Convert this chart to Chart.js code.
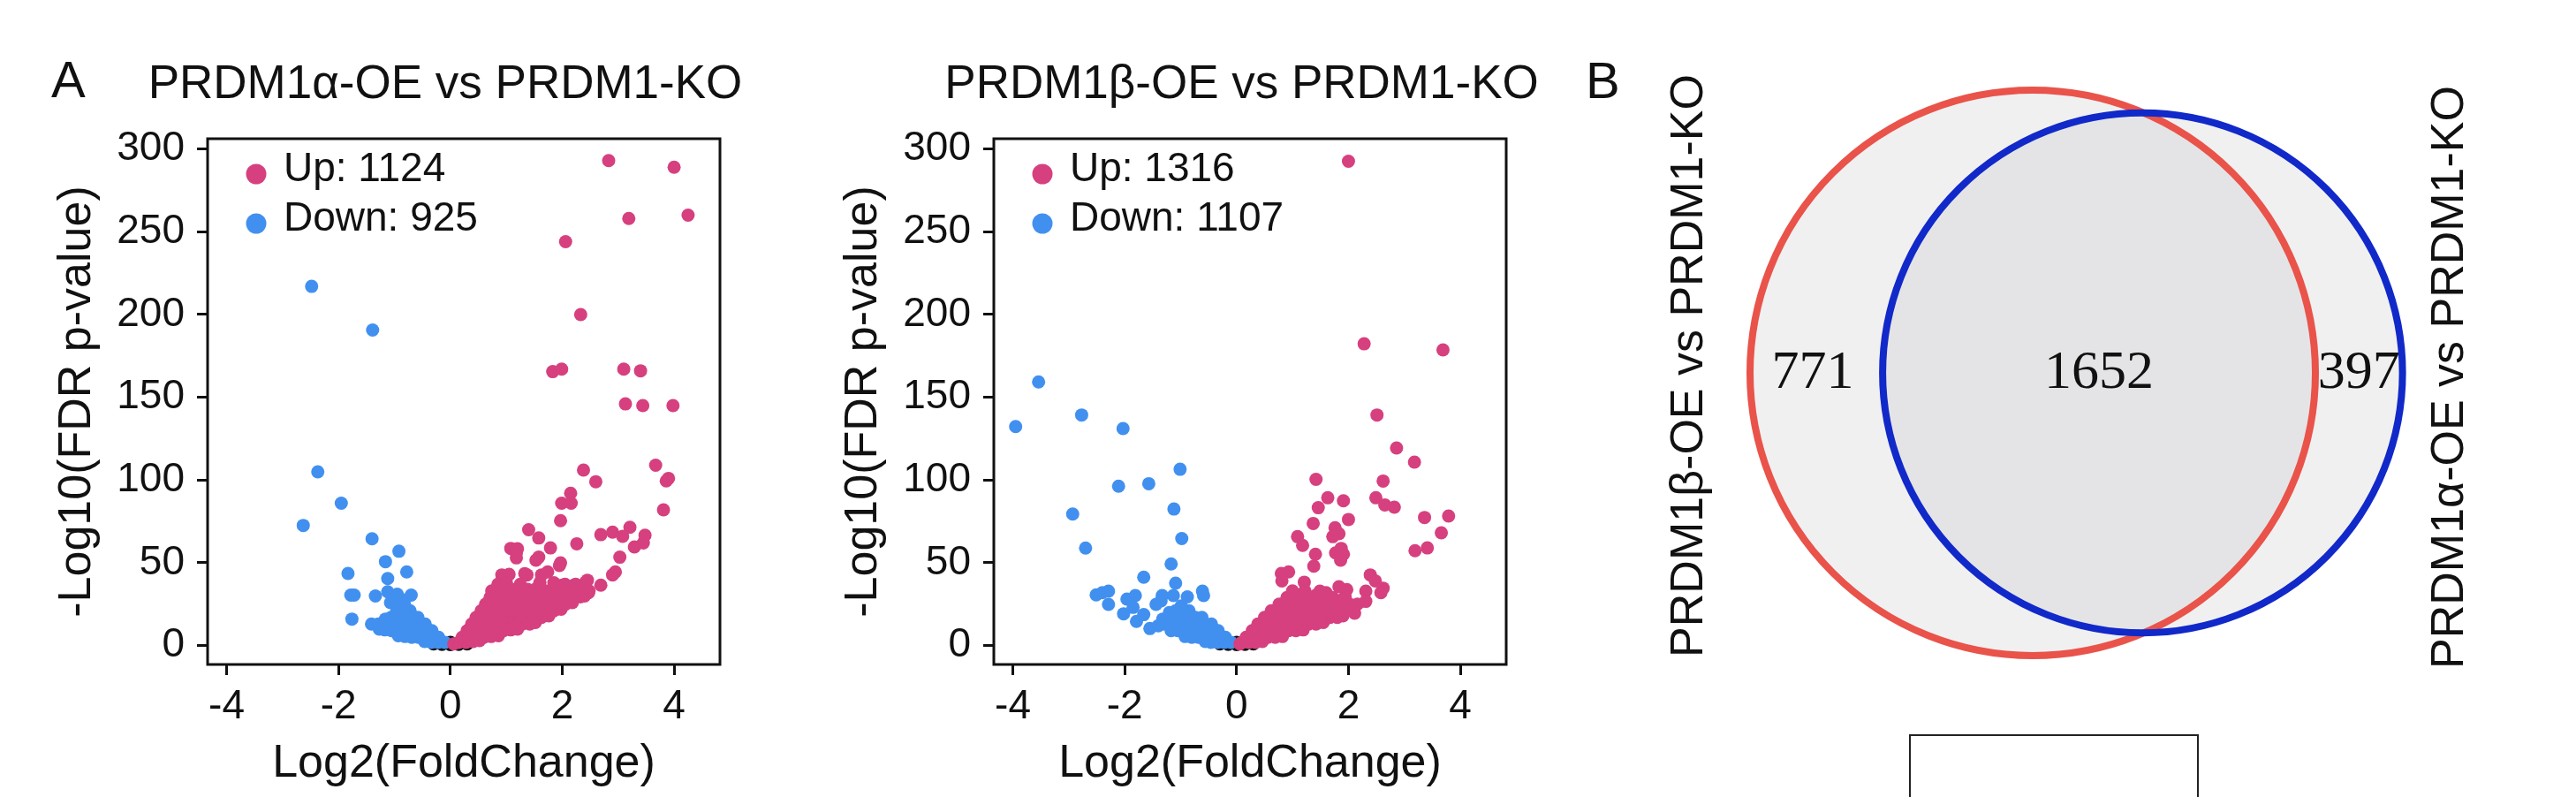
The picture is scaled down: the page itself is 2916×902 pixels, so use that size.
<!DOCTYPE html>
<html>
<head>
<meta charset="utf-8">
<script src="https://cdn.jsdelivr.net/npm/chart.js@4.4.1/dist/chart.umd.min.js"></script>
<style>
html, body { margin: 0; padding: 0; background: #fff; }
body { width: 2916px; height: 902px; position: relative; overflow: hidden; font-family: 'Liberation Sans', Arial, sans-serif; }
canvas { position: absolute; top: 0; }
.tag { position: absolute; font-size: 58px; line-height: 58px; color: #111; }
#cutBox { position: absolute; left: 2161px; top: 831px; width: 324px; height: 120px; border: 2px solid #222; }
</style>
</head>
<body>
<canvas id="volA" width="1008" height="902" style="left:0px"></canvas>
<canvas id="volB" width="1031" height="902" style="left:890px"></canvas>
<canvas id="venn" width="1156" height="902" style="left:1760px"></canvas>
<div class="tag" style="left:58px;top:61px">A</div>
<div class="tag" style="left:1795px;top:62px">B</div>
<div id="cutBox"></div>
<script>
const FONT = "'Liberation Sans', Arial, sans-serif";
const PINK = '#D6407F';
const BLUE = '#4190F0';
const RED = '#E9534A';
const NAVY = '#1129C9';

// ---- data ----
const titles = ['PRDM1α-OE vs PRDM1-KO', 'PRDM1β-OE vs PRDM1-KO'];
const upCounts = [1124, 1316];
const downCounts = [925, 1107];
const xTicks = [-4, -2, 0, 2, 4];
const yTicks = [0, 50, 100, 150, 200, 250, 300];

// panel A (alpha), [log2FC, -log10 FDR]
const upA = [
  [2.83,293],[4.0,289],[3.19,258],[4.25,260],[2.06,244],[2.33,200],[1.83,165.5],[1.99,167],[3.10,167],[3.40,166],
  [3.13,146],[3.44,145],[3.98,145],[3.67,109],[3.90,101],[3.86,99.5],[2.38,106],[2.60,99],[3.81,82],[2.15,92],
  [1.99,86],[2.16,86],[1.97,75.5],[1.40,70],[1.58,65],[1.79,59],[2.26,61.5],[2.69,67],[2.90,68.5],[3.08,66],
  [3.21,71.5],[3.48,66.7],[3.45,62],[3.29,59.6],[3.03,53.4],[2.95,44.5],[2.90,42.7],[2.69,36.5],[2.42,38.3],[2.21,36.5],
  [2.0,36.5],[1.84,33.8],[1.95,48.4],[1.74,44.5],[1.63,42.7],[1.37,42.7],[0.92,42.7],[1.05,43],[1.08,58.7],[1.18,56],
  [1.18,53],[1.58,53.4],[1.53,51.6],[1.55,34.7],[2.47,32],[2.32,29.4],[2.16,27.6],[0.74,33],[1.2,58.5],[1.97,50],
  [2.45,39.5],[1.33,43.5],[1.38,34],[2.10,36],[1.92,34],[2.24,37],
  [0.06,1],[0.15,2],[0.28,2],[0.41,2.5],[0.52,3],
  [0.21,5],[0.34,5],[0.47,5],[0.6,5],[0.73,5.5],[0.86,6],
  [0.3,9],[0.43,9],[0.56,9],[0.69,9],[0.82,9],[0.95,9],[1.08,9.5],[1.2,10],
  [0.38,13],[0.51,13],[0.64,13],[0.77,13],[0.9,13],[1.03,13],[1.16,13],[1.29,13],[1.42,13],[1.52,14],
  [0.46,17],[0.59,17],[0.72,17],[0.85,17],[0.98,17],[1.11,17],[1.24,17],[1.37,17],[1.5,17],[1.63,17],[1.76,18],
  [0.55,21],[0.68,21],[0.81,21],[0.94,21],[1.07,21],[1.2,21],[1.33,21],[1.46,21],[1.59,21],[1.72,21],[1.85,21],[1.98,22],
  [0.63,25],[0.76,25],[0.89,25],[1.02,25],[1.15,25],[1.28,25],[1.41,25],[1.54,25],[1.67,25],[1.8,25],[1.93,25],[2.06,25],[2.18,26],
  [0.71,29],[0.84,29],[0.97,29],[1.1,29],[1.25,29],[1.4,29],[1.56,29],[1.72,29],[1.88,29],[2.02,29],[2.16,29],[2.3,30],[2.4,30],
  [0.8,33],[0.95,33],[1.1,34],[1.3,33],[1.5,33],[1.7,33],[1.9,33],[2.1,33],[2.3,33],[2.48,33],
  [0.85,37],[1.0,38],[1.25,37],[1.6,38],[1.85,38],[2.05,37]
];
const downA = [
  [-2.48,217],[-1.39,190.6],[-2.37,105],[-1.95,86],[-2.63,72.6],[-1.40,64.5],[-0.92,57],[-1.16,50.7],[-0.78,44.5],[-1.83,43.6],
  [-1.12,40.5],[-1.78,30.5],[-1.72,30.5],[-1.34,30],[-1.12,32.5],[-0.95,31],[-0.70,30.5],[-1.76,16],[-1.07,26],[-0.88,28],
  [-0.1,2],[-0.22,2],[-0.34,2],[-0.46,2.5],
  [-0.21,5],[-0.33,5],[-0.45,5],[-0.57,5],[-0.69,5],[-0.81,5.5],[-0.93,6],
  [-0.33,9],[-0.45,9],[-0.57,9],[-0.69,9],[-0.81,9],[-0.93,9],[-1.05,9],[-1.17,9.5],[-1.27,10],
  [-0.45,13],[-0.57,13],[-0.69,13],[-0.81,13],[-0.93,13],[-1.05,13],[-1.17,13],[-1.29,13],[-1.41,13],
  [-0.58,17],[-0.7,17],[-0.82,17],[-0.94,17],[-1.06,17],[-1.16,16],
  [-0.72,21],[-0.84,21],[-0.96,21],
  [-0.82,25],[-0.95,24]
];
const nsA = [[-0.3,1],[-0.15,0.8],[0,0.6],[0.15,0.8],[0.3,1],[0,2]];

// panel B (beta)
const upB = [
  [2.00,292.6],[2.28,182.3],[3.69,178.6],[2.51,139.3],[2.86,119.4],[3.18,110.8],[1.42,100.4],[2.62,99.4],[1.63,89.3],[1.91,87.5],
  [2.49,89.3],[2.65,85],[2.82,83.6],[1.46,83.3],[2.0,76.2],[3.36,77.4],[3.79,78.3],[1.37,73.8],[1.76,71.2],[1.83,67.6],
  [1.72,65.8],[3.66,68.1],[1.09,65.8],[1.18,60.5],[1.87,58.7],[1.91,55.2],[3.41,59],[3.19,57.3],[1.41,55.2],[1.38,48],
  [1.77,56],[1.86,51.6],[0.80,43.6],[0.93,44.5],[0.81,39.1],[1.21,38.3],[2.39,42.7],[2.48,39.1],[2.62,34.7],[2.58,32],
  [1.83,35.6],[1.97,33.8],[1.94,29.4],[2.31,32.9],[2.31,26.7],[2.11,19.6],[1.49,32.9],[1.41,30.2],[1.55,28.5],[1.43,24],
  [0.06,1],[0.1,2],[0.22,2],[0.34,2],[0.46,2.5],
  [0.17,5],[0.3,5],[0.43,5],[0.56,5],[0.69,5],[0.82,5.5],
  [0.28,9],[0.41,9],[0.54,9],[0.67,9],[0.8,9],[0.93,9],[1.06,9],[1.19,9.5],
  [0.38,13],[0.51,13],[0.64,13],[0.77,13],[0.9,13],[1.03,13],[1.16,13],[1.29,13],[1.42,13],[1.55,14],
  [0.5,17],[0.63,17],[0.76,17],[0.89,17],[1.02,17],[1.15,17],[1.28,17],[1.41,17],[1.54,17],[1.67,17],[1.8,17],[1.9,18],
  [0.62,21],[0.75,21],[0.88,21],[1.01,21],[1.14,21],[1.27,21],[1.4,21],[1.53,21],[1.66,21],[1.79,21],[1.92,21],[2.05,22],
  [0.76,25],[0.9,25],[1.04,25],[1.18,25],[1.32,25],[1.46,25],[1.6,25],[1.74,25],[1.88,25],[2.02,25],[2.16,25],
  [0.9,29],[1.05,29],[1.2,29],[1.38,29],[1.72,29],[1.9,28],
  [1.0,33],[1.22,33],[1.6,32]
];
const downB = [
  [-3.95,132.3],[-3.54,159.3],[-2.77,139.3],[-2.03,131.1],[-1.01,106.5],[-2.11,96.3],[-1.57,97.8],[-2.93,79.5],[-1.12,82.5],[-0.98,64.7],
  [-2.70,58.9],[-1.17,49.3],[-1.66,41.3],[-1.09,37.7],[-2.51,30.6],[-2.29,32.9],[-2.29,24.9],[-1.96,28.1],[-1.81,30.2],[-1.85,23.1],
  [-2.02,19.2],[-1.79,14.6],[-1.66,18.7],[-1.55,10.3],[-1.33,30.2],[-1.44,24.9],[-1.13,30.2],[-0.88,29.4],[-0.61,32.9],[-0.59,30.2],
  [-0.99,24],[-2.40,32],[-1.35,27],
  [-0.1,2],[-0.22,2],[-0.34,2],[-0.46,2],[-0.56,2.5],
  [-0.2,5],[-0.32,5],[-0.44,5],[-0.56,5],[-0.68,5],[-0.8,5],[-0.92,5.5],
  [-0.33,9],[-0.45,9],[-0.57,9],[-0.69,9],[-0.81,9],[-0.93,9],[-1.05,9],[-1.17,9],
  [-0.45,13],[-0.57,13],[-0.69,13],[-0.81,13],[-0.93,13],[-1.05,13],[-1.17,13],[-1.29,13],[-1.4,12],
  [-0.62,17],[-0.74,17],[-0.86,17],[-0.98,17],[-1.1,17],[-1.22,17],[-1.32,16],
  [-0.85,21],[-0.97,21],[-1.09,21],[-1.2,20]
];
const nsB = [[-0.3,1],[-0.15,0.8],[0,0.6],[0.15,0.8],[0.3,1],[0,2]];

// venn
const vennNames = ['PRDM1β-OE vs PRDM1-KO', 'PRDM1α-OE vs PRDM1-KO'];
const vennCounts = [771, 1652, 397]; // beta only, shared, alpha only

Chart.defaults.font.family = FONT;
Chart.defaults.color = '#111';

const toPt = p => ({ x: p[0], y: p[1] });

// legend drawn inside the plot box, top-left
const dotLegend = {
  id: 'dotLegend',
  afterDatasetsDraw(chart) {
    const { ctx, chartArea: a } = chart;
    ctx.save();
    ctx.font = '46px ' + FONT;
    ctx.textBaseline = 'middle';
    chart.data.datasets.forEach(ds => {
      if (ds.legendRow === undefined) return;
      const y = a.top + 40 + ds.legendRow * 56;
      ctx.fillStyle = ds.backgroundColor;
      ctx.beginPath();
      ctx.arc(a.left + 55, y, 11.5, 0, Math.PI * 2);
      ctx.fill();
      ctx.fillStyle = '#111';
      ctx.fillText(ds.label, a.left + 86, y - 5);
    });
    ctx.restore();
  }
};

// box round the plot area
const frame = {
  id: 'frame',
  afterDatasetsDraw(chart) {
    const { ctx, chartArea: a } = chart;
    ctx.save();
    ctx.strokeStyle = '#111';
    ctx.lineWidth = 3;
    ctx.strokeRect(a.left, a.top, a.right - a.left, a.bottom - a.top);
    ctx.restore();
  }
};

function volcano(id, title, up, down, ns, nUp, nDown, spacer) {
  return new Chart(document.getElementById(id), {
    type: 'scatter',
    data: {
      datasets: [
        { label: 'Up: ' + nUp, data: up.map(toPt), backgroundColor: PINK, legendRow: 0, order: 2 },
        { label: 'Down: ' + nDown, data: down.map(toPt), backgroundColor: BLUE, legendRow: 1, order: 2 },
        { label: 'NS', data: ns.map(toPt), backgroundColor: '#111', order: 3 }
      ]
    },
    options: {
      responsive: false,
      animation: false,
      events: [],
      layout: { padding: 0 },
      elements: { point: { radius: 7.5, hoverRadius: 7.5, borderWidth: 0 } },
      plugins: {
        legend: { display: false },
        tooltip: { enabled: false },
        title: {
          display: true, text: title, color: '#111',
          font: { size: 53, weight: 'normal' },
          padding: { top: 65, bottom: 28.4 }
        }
      },
      scales: {
        x: {
          type: 'linear', min: -4.34, max: 4.82,
          afterBuildTicks: s => { s.ticks = xTicks.map(v => ({ value: v })); },
          afterFit: s => { s.height = 150; },
          ticks: { font: { size: 46 }, color: '#111', padding: 9 },
          grid: { drawOnChartArea: false, drawTicks: true, tickLength: 12, lineWidth: 3, color: '#111' },
          border: { display: false },
          title: { display: true, text: 'Log2(FoldChange)', color: '#111', font: { size: 52 }, padding: { top: 0, bottom: 6 } }
        },
        y: {
          type: 'linear', min: -11.4, max: 306.2,
          afterBuildTicks: s => { s.ticks = yTicks.map(v => ({ value: v })); },
          afterFit: s => { s.width = 235; },
          ticks: { font: { size: 46 }, color: '#111', padding: 14 },
          grid: { drawOnChartArea: false, drawTicks: true, tickLength: 12, lineWidth: 3, color: '#111' },
          border: { display: false },
          title: { display: true, text: '-Log10(FDR p-value)', color: '#111', font: { size: 52 }, padding: { top: 56, bottom: 0 } }
        },
        pad: {
          type: 'linear', position: 'right', display: true,
          grid: { display: false }, ticks: { display: false }, border: { display: false },
          afterFit: s => { s.width = spacer; }
        }
      }
    },
    plugins: [dotLegend, frame]
  });
}

volcano('volA', titles[0], upA, downA, nsA, upCounts[0], downCounts[0], 193);
volcano('volB', titles[1], upB, downB, nsB, upCounts[1], downCounts[1], 216);

// ---- area-proportional venn ----
const nBeta = vennCounts[0] + vennCounts[1];
const nAlpha = vennCounts[1] + vennCounts[2];
const rBeta = Math.sqrt(nBeta / Math.PI);
const rAlpha = Math.sqrt(nAlpha / Math.PI);

function lensArea(d, r1, r2) {
  const a1 = Math.acos((d * d + r1 * r1 - r2 * r2) / (2 * d * r1));
  const a2 = Math.acos((d * d + r2 * r2 - r1 * r1) / (2 * d * r2));
  const k = Math.sqrt((-d + r1 + r2) * (d + r1 - r2) * (d - r1 + r2) * (d + r1 + r2));
  return r1 * r1 * a1 + r2 * r2 * a2 - k / 2;
}
let lo = Math.abs(rBeta - rAlpha) + 1e-6, hi = rBeta + rAlpha - 1e-6;
for (let i = 0; i < 60; i++) {
  const mid = (lo + hi) / 2;
  if (lensArea(mid, rBeta, rAlpha) > vennCounts[1]) lo = mid; else hi = mid;
}
const dist = (lo + hi) / 2;
const circles = [{ x: 0, y: 0, r: rBeta }, { x: dist, y: 0, r: rAlpha }];

// pixel layout of the venn canvas
const ppu = 320 / rBeta, cx = 541, cy = 422, vw = 1156, vh = 902;

const pxRadius = ctx => {
  if (!ctx.raw) return 0;
  const s = ctx.chart.scales.x;
  return Math.abs(s.getPixelForValue(ctx.raw.r) - s.getPixelForValue(0));
};

const vennText = {
  id: 'vennText',
  afterDatasetsDraw(chart) {
    const { ctx, scales: { x, y } } = chart;
    const yc = y.getPixelForValue(0);
    const bL = x.getPixelForValue(-rBeta), bR = x.getPixelForValue(rBeta);
    const aL = x.getPixelForValue(dist - rAlpha), aR = x.getPixelForValue(dist + rAlpha);
    ctx.save();
    ctx.fillStyle = '#111';
    ctx.textAlign = 'center';
    ctx.textBaseline = 'middle';
    ctx.font = "62px 'Liberation Serif', 'Times New Roman', serif";
    ctx.fillText(String(vennCounts[0]), (bL + aL) / 2 - 4, yc + 1);
    ctx.fillText(String(vennCounts[1]), (aL + bR) / 2, yc + 1);
    ctx.fillText(String(vennCounts[2]), (bR + aR) / 2, yc + 1);
    ctx.font = '52px ' + FONT;
    [[vennNames[0], bL - 68, yc - 8], [vennNames[1], aR + 54, yc + 5]].forEach(([t, lx, ly]) => {
      ctx.save();
      ctx.translate(lx, ly);
      ctx.rotate(-Math.PI / 2);
      ctx.fillText(t, 0, 0);
      ctx.restore();
    });
    ctx.restore();
  }
};

new Chart(document.getElementById('venn'), {
  type: 'scatter',
  data: {
    datasets: [
      { label: 'fill', data: circles, backgroundColor: 'rgba(180,182,186,0.2)', borderWidth: 0, order: 3 },
      { label: vennNames[0], data: [circles[0]], backgroundColor: 'rgba(0,0,0,0)', borderColor: RED, borderWidth: 8, order: 2 },
      { label: vennNames[1], data: [circles[1]], backgroundColor: 'rgba(0,0,0,0)', borderColor: NAVY, borderWidth: 8, order: 1 }
    ]
  },
  options: {
    responsive: false,
    animation: false,
    events: [],
    layout: { padding: 0 },
    elements: { point: { radius: pxRadius, hoverRadius: pxRadius } },
    plugins: { legend: { display: false }, tooltip: { enabled: false } },
    scales: {
      x: { type: 'linear', display: false, min: -cx / ppu, max: (vw - cx) / ppu },
      y: { type: 'linear', display: false, min: -(vh - cy) / ppu, max: cy / ppu }
    }
  },
  plugins: [vennText]
});
</script>
</body>
</html>
